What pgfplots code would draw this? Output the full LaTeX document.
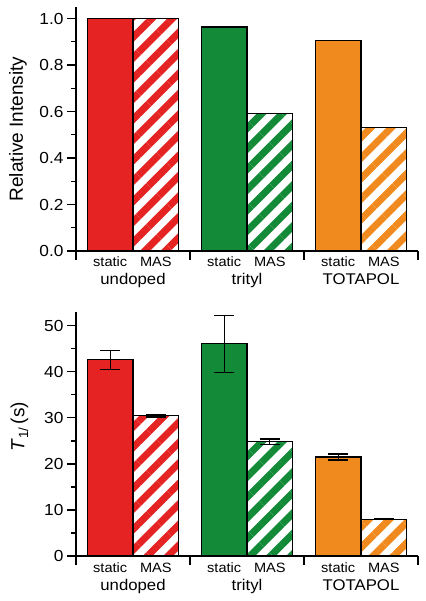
\documentclass[border=0pt]{standalone}
\usepackage{fontspec}
\setmainfont{Liberation Sans}[FakeStretch=1.08]
\newfontfamily\lblfont{Liberation Sans}
\usepackage{pgfplots}
\pgfplotsset{compat=1.18}
\usetikzlibrary{patterns.meta}
\definecolor{cred}{HTML}{E42322}
\definecolor{cgreen}{HTML}{128A38}
\definecolor{corange}{HTML}{F18A1E}
\tikzset{grp/.style={anchor=base, yshift=-34pt, font=\fontsize{15.5}{18}\selectfont}}
\pgfplotsset{
  mybase/.style={
    scale only axis, width=342pt, height=244pt,
    xmin=0, xmax=3, ymin=0, clip=false,
    axis x line*=bottom, axis y line*=left,
    axis line style={line width=1.2pt, black, -},
    tick style={line width=1.2pt, black},
    tick align=outside,
    major tick length=9pt, minor tick length=4.5pt,
    /pgf/number format/assume math mode=true,
    tick label style={font=\fontsize{16}{18}\selectfont},
    xtick={0,1,2,3}, xticklabels={,,,},
    extra x ticks={0.3,0.7,1.3,1.7,2.3,2.7},
    extra x tick labels={static,MAS,static,MAS,static,MAS},
    extra x tick style={major tick length=0pt,
      tick label style={font=\fontsize{13.5}{15}\selectfont, anchor=base, yshift=-16pt}},
    every axis y label/.style={at={(axis description cs:-0.17,0.5)}, rotate=90, anchor=center,
      font=\lblfont\fontsize{19}{21}\selectfont},
    ybar, bar width=0.4,
  },
  solidbar/.style={bar shift=0pt, draw=black, line width=1.2pt, fill=#1},
  hatchbar/.style={bar shift=0pt, draw=black, line width=1.2pt, preaction={fill=white},
    pattern={Lines[angle=45,distance=14.5pt,line width=7pt]}, pattern color=#1},
  eb/.style={error bars/.cd, y dir=both, y explicit,
    error bar style={line width=1.2pt, black, solid},
    error mark options={rotate=90, mark size=10pt, line width=1.2pt, black}},
}
\begin{document}
\begin{tikzpicture}
\begin{axis}[mybase, ymax=1.05,
  ytick={0,0.2,0.4,0.6,0.8,1.0}, minor y tick num=1,
  yticklabel style={/pgf/number format/.cd, fixed, fixed zerofill, precision=1},
  ylabel={Relative Intensity}]
\addplot[solidbar=cred] coordinates {(0.3,1.0)};
\addplot[hatchbar=cred] coordinates {(0.7,1.0)};
\addplot[solidbar=cgreen] coordinates {(1.3,0.964)};
\addplot[hatchbar=cgreen] coordinates {(1.7,0.593)};
\addplot[solidbar=corange] coordinates {(2.3,0.906)};
\addplot[hatchbar=corange] coordinates {(2.7,0.531)};
\node[grp] at (axis cs:0.5,0) {undoped};
\node[grp] at (axis cs:1.5,0) {trityl};
\node[grp] at (axis cs:2.5,0) {TOTAPOL};
\end{axis}
\begin{axis}[mybase, at={(0,-305pt)}, ymax=53,
  ytick={0,10,20,30,40,50}, minor y tick num=1,
  ylabel style={at={(axis description cs:-0.165,0.53)}},
  ylabel={\textit{T}\textsubscript{1/}\,(s)}]
\addplot[solidbar=cred, eb] coordinates {(0.3,42.6) +- (0,2.1)};
\addplot[hatchbar=cred, eb] coordinates {(0.7,30.5) +- (0,0.3)};
\addplot[solidbar=cgreen, eb] coordinates {(1.3,46.1) +- (0,6.2)};
\addplot[hatchbar=cgreen, eb] coordinates {(1.7,24.8) +- (0,0.6)};
\addplot[solidbar=corange, eb] coordinates {(2.3,21.5) +- (0,0.65)};
\addplot[hatchbar=corange, eb] coordinates {(2.7,8.0) +- (0,0.1)};
\node[grp] at (axis cs:0.5,0) {undoped};
\node[grp] at (axis cs:1.5,0) {trityl};
\node[grp] at (axis cs:2.5,0) {TOTAPOL};
\end{axis}
\pgfresetboundingbox
\useasboundingbox (-76pt,251pt) rectangle (349pt,-350pt);
\end{tikzpicture}
\end{document}
